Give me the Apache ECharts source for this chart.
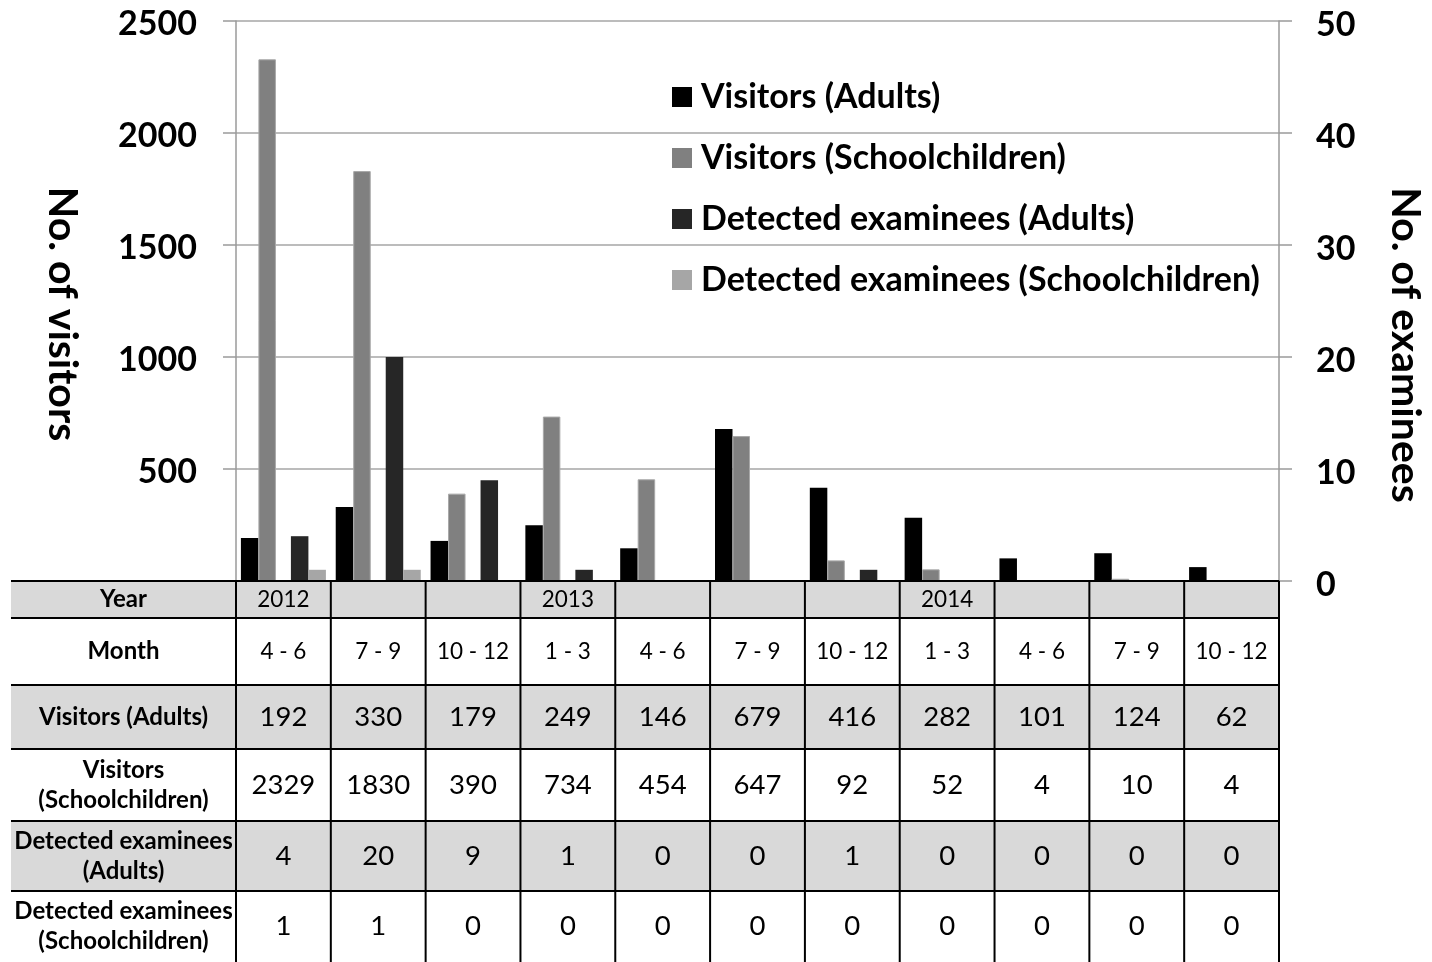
<!DOCTYPE html>
<html>
<head>
<meta charset="utf-8">
<script src="https://cdn.jsdelivr.net/npm/echarts@6/dist/echarts.min.js"></script>
<style>
html,body{margin:0;padding:0;background:#fff;}
#main{width:1432px;height:962px;}
</style>
</head>
<body>
<div id="main"></div>
<script>
const categories = ['4 - 6','7 - 9','10 - 12','1 - 3','4 - 6','7 - 9','10 - 12','1 - 3','4 - 6','7 - 9','10 - 12'];
const years = ['2012','','','2013','','','','2014','','',''];
const visitorsAdults = [192,330,179,249,146,679,416,282,101,124,62];
const visitorsSchool = [2329,1830,390,734,454,647,92,52,4,10,4];
const detectedAdults = [4,20,9,1,0,0,1,0,0,0,0];
const detectedSchool = [1,1,0,0,0,0,0,0,0,0,0];
const seriesNames = ['Visitors (Adults)','Visitors (Schoolchildren)','Detected examinees (Adults)','Detected examinees (Schoolchildren)'];
const rowLabels = ['Year','Month','Visitors (Adults)','Visitors\n(Schoolchildren)','Detected examinees\n(Adults)','Detected examinees\n(Schoolchildren)'];
const leftTicks = [0,500,1000,1500,2000,2500];
const rightTicks = [0,10,20,30,40,50];

const FONT = 'Lato, "Open Sans", sans-serif';
const GRID = {left:236, right:153, top:21, bottom:381};
const chart = echarts.init(document.getElementById('main'), null, {renderer:'canvas'});

const option = {
  animation:false,
  backgroundColor:'#fff',
  grid:{left:GRID.left, right:GRID.right, top:GRID.top, bottom:GRID.bottom, containLabel:false},
  legend:{
    data:seriesNames,
    orient:'vertical',
    left:672, top:80, padding:0,
    icon:'rect', itemWidth:20, itemHeight:20, itemGap:27,
    itemStyle:{borderWidth:0},
    textStyle:{fontFamily:FONT, fontWeight:'bold', fontSize:34, color:'#000', lineHeight:34, padding:[0,0,0,4]},
    selectedMode:false
  },
  xAxis:{
    type:'category', data:categories.map((m,i)=>i),
    axisLine:{show:true, lineStyle:{color:'#000', width:2}},
    axisTick:{show:false}, axisLabel:{show:false}, splitLine:{show:false}
  },
  yAxis:[
    {type:'value', min:leftTicks[0], max:leftTicks[leftTicks.length-1], interval:500,
     axisLine:{show:true, lineStyle:{color:'#9a9a9a', width:1.5}},
     axisTick:{show:true, length:13, lineStyle:{color:'#9a9a9a', width:1.5}},
     axisLabel:{showMinLabel:false, margin:39, verticalAlign:'top', lineHeight:34, padding:[-14,0,0,0], fontFamily:FONT, fontWeight:'bold', fontSize:34, color:'#000', formatter:v=>String(v)},
     splitLine:{show:true, lineStyle:{color:'#a6a6a6', width:1.5}}},
    {type:'value', min:rightTicks[0], max:rightTicks[rightTicks.length-1], interval:10, position:'right',
     axisLine:{show:true, lineStyle:{color:'#9a9a9a', width:1.5}},
     axisTick:{show:true, length:13, lineStyle:{color:'#9a9a9a', width:1.5}},
     axisLabel:{margin:37, verticalAlign:'top', lineHeight:34, padding:[-13,0,0,0], fontFamily:FONT, fontWeight:'bold', fontSize:34, color:'#000', formatter:v=>String(v)},
     splitLine:{show:false}}
  ],
  series:[
    {name:seriesNames[0], type:'bar', yAxisIndex:0, data:visitorsAdults, barWidth:17.5, barGap:'0%', itemStyle:{color:'#000000'}},
    {name:seriesNames[1], type:'bar', yAxisIndex:0, data:visitorsSchool, barWidth:17.5, barGap:'0%', itemStyle:{color:'#808080', borderColor:'#a8a8a8', borderWidth:1}},
    {name:'', type:'bar', yAxisIndex:0, data:[], barWidth:15, barGap:'0%', silent:true},
    {name:seriesNames[2], type:'bar', yAxisIndex:1, data:detectedAdults, barWidth:17.5, barGap:'0%', itemStyle:{color:'#262626'}},
    {name:seriesNames[3], type:'bar', yAxisIndex:1, data:detectedSchool, barWidth:17.5, barGap:'0%', itemStyle:{color:'#a6a6a6'}}
  ]
};
chart.setOption(option);

function buildTable(){
  const n = categories.length;
  const centers = categories.map((m,i)=>chart.convertToPixel({xAxisIndex:0}, i));
  const bw = centers[1] - centers[0];
  const tableLeft = 11;
  const colLeft = centers[0] - bw/2;
  const colRight = centers[n-1] + bw/2;
  const labelCx = (tableLeft + colLeft)/2;
  const rowEdges = [581,618,685,749,821,891,962];
  const rowBg = ['#d9d9d9','#ffffff','#d9d9d9','#ffffff','#d9d9d9','#ffffff'];
  const rowValues = [years, categories,
    visitorsAdults.map(String), visitorsSchool.map(String),
    detectedAdults.map(String), detectedSchool.map(String)];
  const valueSize = [22.5,22.5,27.5,27.5,27.5,27.5];
  const els = [];
  for(let r=0;r<6;r++){
    els.push({type:'rect', shape:{x:tableLeft, y:rowEdges[r], width:colRight-tableLeft, height:rowEdges[r+1]-rowEdges[r]},
      style:{fill:rowBg[r]}, z:1});
  }
  for(let r=0;r<6;r++){
    els.push({type:'line', shape:{x1:tableLeft, y1:rowEdges[r], x2:colRight, y2:rowEdges[r]},
      style:{stroke:'#000', lineWidth:2}, z:3});
  }
  for(let k=0;k<=n;k++){
    const x = colLeft + bw*k;
    els.push({type:'line', shape:{x1:x, y1:rowEdges[0], x2:x, y2:rowEdges[6]},
      style:{stroke:'#000', lineWidth:2}, z:3});
  }
  for(let r=0;r<6;r++){
    const cy = (rowEdges[r]+rowEdges[r+1])/2;
    els.push({type:'text', x:labelCx, y:cy, z:4,
      style:{text:rowLabels[r], fontFamily:FONT, fontWeight:'bold', fontSize:24, lineHeight:30, fill:'#000',
        align:'center', verticalAlign:'middle'}});
    for(let k=0;k<n;k++){
      els.push({type:'text', x:centers[k], y:cy, z:4,
        style:{text:rowValues[r][k], fontFamily:FONT, fontSize:valueSize[r], fill:'#000',
          align:'center', verticalAlign:'middle'}});
    }
  }
  els.push({type:'text', x:62, y:314, rotation:-Math.PI/2, z:4,
    style:{text:'No. of visitors', fontFamily:FONT, fontWeight:'bold', fontSize:41, fill:'#000', align:'center', verticalAlign:'middle'}});
  els.push({type:'text', x:1405, y:345, rotation:-Math.PI/2, z:4,
    style:{text:'No. of examinees', fontFamily:FONT, fontWeight:'bold', fontSize:41, fill:'#000', align:'center', verticalAlign:'middle'}});
  chart.setOption({graphic:{elements:els}});
}
buildTable();
</script>
</body>
</html>
